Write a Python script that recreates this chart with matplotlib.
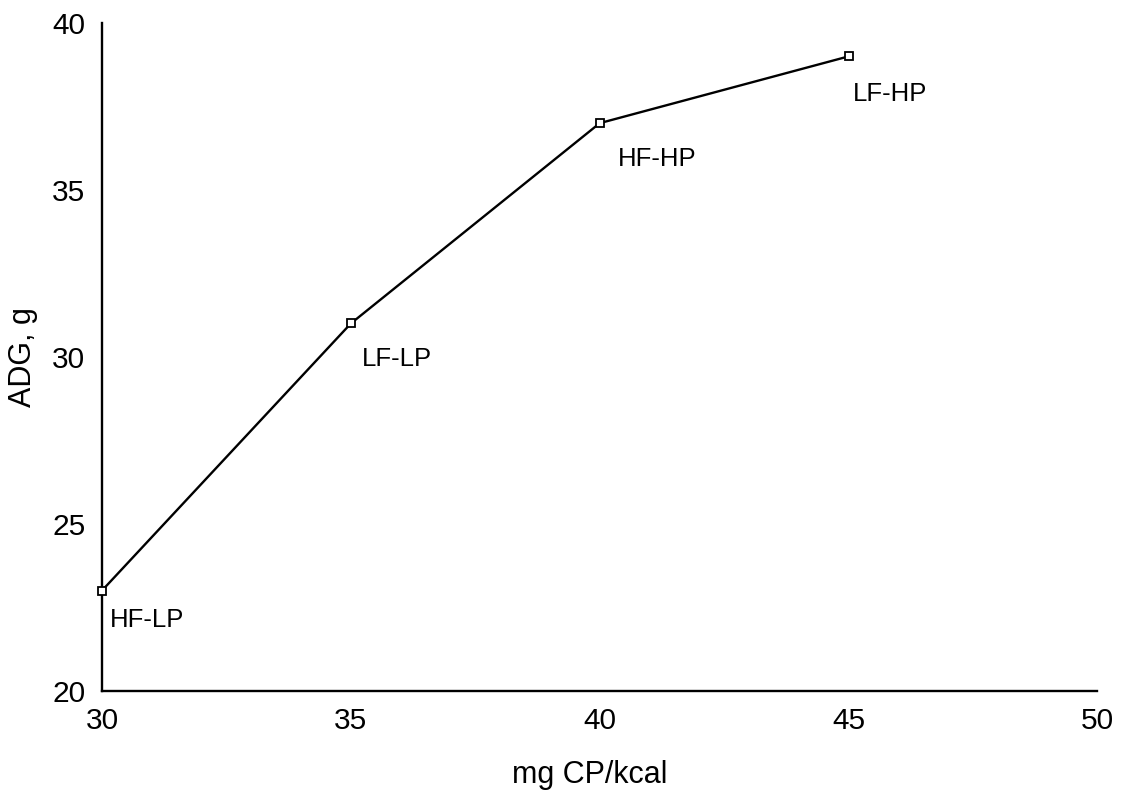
import matplotlib.pyplot as plt

# data
cp_per_kcal = [30, 35, 40, 45]
adg = [23, 31, 37, 39]
diet_labels = ["HF-LP", "LF-LP", "HF-HP", "LF-HP"]

# label offsets in pixels from each point
label_offsets = [(8, -29), (11, -36), (18, -36), (4, -38)]

plt.rcParams["font.family"] = ["Liberation Sans", "DejaVu Sans"]

fig = plt.figure(figsize=(11.21, 7.93), dpi=100)
ax = fig.add_axes([0.091, 0.129, 0.888, 0.842])

ax.plot(cp_per_kcal, adg, color="black", linewidth=1.7,
        marker="s", markersize=6, markerfacecolor="white",
        markeredgecolor="black", markeredgewidth=1.3, clip_on=False,
        zorder=3)

for x, y, lab, off in zip(cp_per_kcal, adg, diet_labels, label_offsets):
    ax.annotate(lab, (x, y), xytext=off, textcoords="offset pixels",
                ha="left", va="center", fontsize=18.5)

ax.set_xlim(30, 50)
ax.set_ylim(20, 40)
ax.set_xticks([30, 35, 40, 45, 50])
ax.set_yticks([20, 25, 30, 35, 40])
ax.tick_params(length=0, labelsize=21.5)
ax.tick_params(axis="x", pad=12)
ax.tick_params(axis="y", pad=12)

for side in ["top", "right"]:
    ax.spines[side].set_visible(False)
ax.spines["left"].set_linewidth(1.7)
ax.spines["bottom"].set_linewidth(1.7)

ax.set_xlabel("mg CP/kcal", fontsize=22)
ax.xaxis.set_label_coords(0.49, -0.104)
ax.set_ylabel("ADG, g", fontsize=22, labelpad=10)

fig.savefig("out.png", dpi=100)
plt.close(fig)
